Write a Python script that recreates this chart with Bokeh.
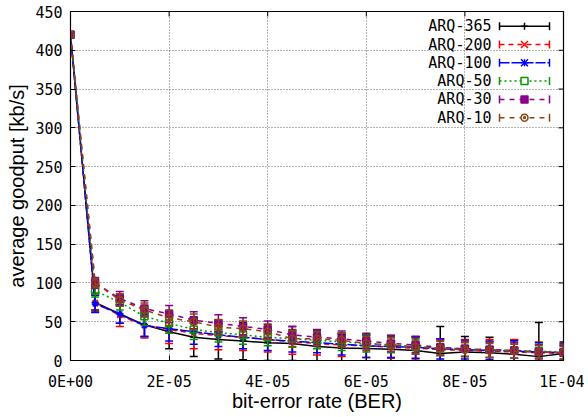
import math
from bokeh.plotting import figure
from bokeh.models import (FixedTicker, CustomJSTickFormatter, Range1d, ColumnDataSource,
                          Label, Arrow, BoxAnnotation, PolyAnnotation)
from bokeh.embed import file_html
from bokeh.resources import INLINE

# ---------------- data ----------------
ber = [0, 5e-06, 1e-05, 1.5e-05, 2e-05, 2.5e-05, 3e-05, 3.5e-05, 4e-05, 4.5e-05, 5e-05,
       5.5e-05, 6e-05, 6.5e-05, 7e-05, 7.5e-05, 8e-05, 8.5e-05, 9e-05, 9.5e-05, 1e-04]

names = ["ARQ-365", "ARQ-200", "ARQ-100", "ARQ-50", "ARQ-30", "ARQ-10"]

arq365 = [420, 75, 60, 46, 37, 30, 27, 25, 23, 22, 18, 16, 15.5, 14.5, 13, 9, 11, 10, 8, 5, 9]
arq200 = [420, 75, 58, 45, 40, 35, 32, 30, 27, 24, 22, 20, 19, 17, 16, 14, 13, 12, 11, 10, 9]
arq100 = [420, 73, 60, 45, 41, 37, 33, 30, 27, 25, 23, 21, 19, 18, 17, 15, 14, 13, 12, 11, 10]
arq50 = [420, 90, 75, 57, 48, 40, 36, 33, 30, 28, 26, 24, 22, 20, 18, 16, 15, 14, 13, 12, 11]
arq30 = [420, 100, 80, 67, 60, 52, 48, 44, 40, 33, 30, 28, 25, 22, 20, 17, 15, 14, 13, 11, 10]
arq10 = [420, 100, 78, 65, 55, 50, 43, 41, 37, 28, 28, 26, 22, 20, 17.5, 15.5, 14, 13, 12, 11, 10]

err365 = [0, 10, 12, 15, 22, 25, 25, 24, 23, 22, 20, 18, 17, 18, 18, 35, 20, 20, 18, 44, 15]
err200 = [0, 12, 14, 16, 18, 20, 18, 17, 16, 16, 15, 15, 15, 14, 14, 14, 14, 15, 16, 14, 13]
err100 = [0, 11, 12, 14, 16, 16, 15, 15, 14, 14, 13, 14, 15, 14, 14, 13, 12, 12, 13, 12, 11]
err50 = [0, 8, 10, 12, 13, 13, 12, 12, 11, 11, 11, 11, 11, 10, 10, 10, 10, 10, 10, 9, 9]
err30 = [0, 7, 9, 10, 11, 11, 11, 11, 11, 11, 10, 10, 10, 10, 10, 10, 10, 10, 10, 9, 9]
err10 = [0, 6, 8, 9, 10, 10, 10, 10, 10, 10, 9, 9, 9, 9, 9, 9, 9, 9, 9, 8, 8]

x_ticks = [0, 2e-05, 4e-05, 6e-05, 8e-05, 1e-04]
y_ticks = [0, 50, 100, 150, 200, 250, 300, 350, 400, 450]

series = [arq365, arq200, arq100, arq50, arq30, arq10]
errors = [err365, err200, err100, err50, err30, err10]

# ---------------- styles ----------------
colors = ["#000000", "#ff0000", "#0000ff", "#009a00", "#8b008b", "#8b4513"]
dashes = ["solid", "5 4", "10 2", "2 3", "5 5", "5 5"]
markers = ["cross", "x", "asterisk", "square", "square", "circle_dot"]
fills = [None, None, None, None, "#8b008b", None]

MONO = "DejaVu Sans Mono"
SANS = "Liberation Sans"

p = figure(width=584, height=414, output_backend="svg", toolbar_location=None,
           x_range=Range1d(0, 1e-04), y_range=Range1d(0, 450),
           min_border_left=70, min_border_right=21, min_border_top=11, min_border_bottom=54)
p.background_fill_color = "white"
p.border_fill_color = "white"
p.outline_line_color = "black"
p.outline_line_width = 1.2

fmt = CustomJSTickFormatter(code="""
const s = tick.toExponential(0).toUpperCase();
const i = s.indexOf('E');
const mant = s.slice(0, i);
const sign = s[i+1];
let ex = s.slice(i+2);
if (ex.length < 2) ex = '0' + ex;
return mant + 'E' + sign + ex;
""")

p.xaxis.ticker = FixedTicker(ticks=x_ticks)
p.xaxis.formatter = fmt
p.yaxis.ticker = FixedTicker(ticks=y_ticks)
p.xgrid.ticker = FixedTicker(ticks=x_ticks)
p.ygrid.ticker = FixedTicker(ticks=y_ticks)

p.xaxis.axis_label = "bit-error rate (BER)"
p.yaxis.axis_label = "average goodput [kb/s]"

for ax in (p.xaxis, p.yaxis):
    ax.axis_label_text_font = SANS
    ax.axis_label_text_font_size = "20px"
    ax.axis_label_text_font_style = "normal"
    ax.axis_label_text_color = "black"
    ax.major_label_text_font = MONO
    ax.major_label_text_font_size = "15px"
    ax.major_label_text_color = "black"
    ax.major_tick_in = 5
    ax.major_tick_out = 0
    ax.minor_tick_line_color = None
    ax.axis_line_color = "black"
    ax.major_tick_line_color = "black"
p.xaxis.major_label_standoff = 12
p.xaxis.axis_label_standoff = -4
p.yaxis.major_label_standoff = 8
p.yaxis.axis_label_standoff = 4

for g in (p.xgrid, p.ygrid):
    g.grid_line_color = "#666666"
    g.grid_line_dash = "1 2"
    g.grid_line_width = 1

# mirrored inward ticks on the right and top frame edges
p.scatter(x=[x_ticks[-1]] * len(y_ticks), y=y_ticks, marker="dash", size=10,
          line_color="black", line_width=1)
p.scatter(x=x_ticks, y=[y_ticks[-1]] * len(x_ticks), marker="dash", angle=math.pi / 2,
          size=10, line_color="black", line_width=1)

for name, ys, es, c, d, m, f in zip(names, series, errors, colors, dashes, markers, fills):
    lo = [y - e for y, e in zip(ys, es)]
    hi = [y + e for y, e in zip(ys, es)]
    src = ColumnDataSource(dict(x=ber, y=ys, lo=lo, hi=hi))
    p.segment(x0="x", y0="lo", x1="x", y1="hi", source=src, line_color=c, line_width=1.5)
    p.scatter(x="x", y="lo", source=src, marker="dash", size=8, line_color=c, line_width=1.5)
    p.scatter(x="x", y="hi", source=src, marker="dash", size=8, line_color=c, line_width=1.5)
    p.line(x="x", y="y", source=src, line_color=c, line_width=1.5, line_dash=d)
    p.scatter(x="x", y="y", source=src, marker=m, size=7, line_color=c, line_width=1.5,
              fill_color=f)

# ---------------- key (gnuplot style: text right-aligned, sample to its right) ----------------
FRAME_H = 349
KEY_TEXT_RIGHT = 421
KEY_X0, KEY_X1 = 429, 479
KEY_TOP, KEY_STEP = 14.7, 18.3


def seg(xa, ya, xb, yb, color, dash="solid"):
    p.add_layout(Arrow(x_start=xa, y_start=ya, x_end=xb, y_end=yb, start_units="screen",
                       end_units="screen", start=None, end=None, line_color=color,
                       line_width=1.5, line_dash=dash))


for i, (name, c, d, m, f) in enumerate(zip(names, colors, dashes, markers, fills)):
    yc = FRAME_H - (KEY_TOP + KEY_STEP * i)
    xc = (KEY_X0 + KEY_X1) / 2
    p.add_layout(Label(x=KEY_TEXT_RIGHT, y=yc, x_units="screen", y_units="screen", text=name,
                       text_align="right", text_baseline="middle", text_font=MONO,
                       text_font_size="15px", text_color="black"))
    seg(KEY_X0, yc, KEY_X1, yc, c, d)
    seg(KEY_X0, yc - 4, KEY_X0, yc + 4, c)
    seg(KEY_X1, yc - 4, KEY_X1, yc + 4, c)
    r = 3.5
    if m in ("cross", "asterisk"):
        seg(xc, yc - r, xc, yc + r, c)
        seg(xc - r, yc, xc + r, yc, c)
    if m in ("x", "asterisk"):
        seg(xc - r, yc - r, xc + r, yc + r, c)
        seg(xc - r, yc + r, xc + r, yc - r, c)
    if m == "square":
        p.add_layout(BoxAnnotation(left=xc - r, right=xc + r, bottom=yc - r, top=yc + r,
                                   left_units="screen", right_units="screen",
                                   top_units="screen", bottom_units="screen",
                                   fill_color=f if f else "white", fill_alpha=1,
                                   line_color=c, line_width=1.5, line_alpha=1))
    if m == "circle_dot":
        n = 16
        p.add_layout(PolyAnnotation(
            xs=[xc + r * math.cos(2 * math.pi * k / n) for k in range(n)],
            ys=[yc + r * math.sin(2 * math.pi * k / n) for k in range(n)],
            xs_units="screen", ys_units="screen", fill_color="white", fill_alpha=1,
            line_color=c, line_width=1.5, line_alpha=1))
        p.add_layout(BoxAnnotation(left=xc - 1, right=xc + 1, bottom=yc - 1, top=yc + 1,
                                   left_units="screen", right_units="screen",
                                   top_units="screen", bottom_units="screen",
                                   fill_color=c, fill_alpha=1, line_color=c, line_alpha=1))

open("out.html", "w").write(file_html(p, INLINE))
